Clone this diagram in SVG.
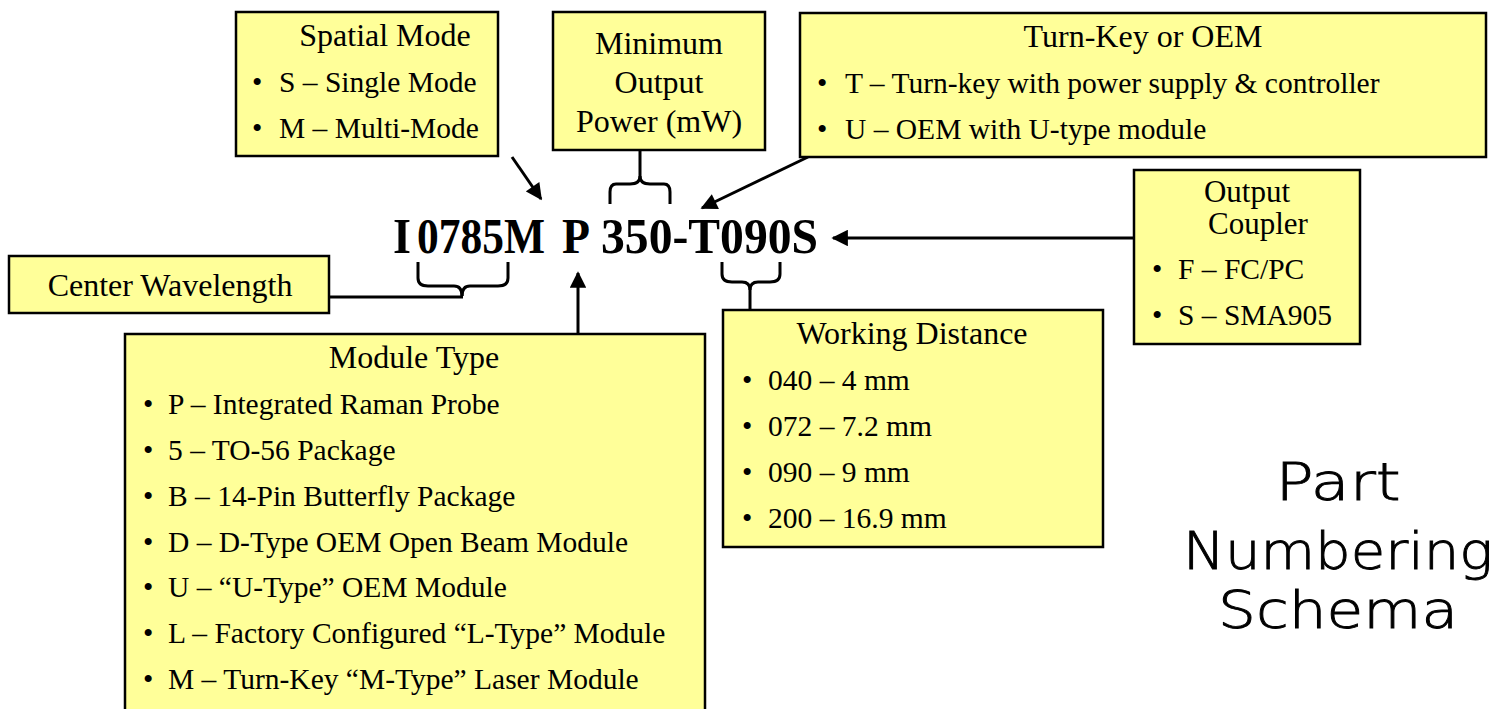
<svg xmlns="http://www.w3.org/2000/svg" width="1502" height="709" viewBox="0 0 1502 709">
<style>
.box{fill:#FFFF99;stroke:#000;stroke-width:2.5}
.t{font-family:"Liberation Serif","Times New Roman",serif;font-size:29.5px;fill:#000}
.h{font-family:"Liberation Serif","Times New Roman",serif;font-size:32px;fill:#000;text-anchor:middle}
.pn{font-family:"Liberation Serif","Times New Roman",serif;font-size:50px;font-weight:bold;fill:#000}
.ln{fill:none;stroke:#000;stroke-width:3}
.title{font-family:"DejaVu Sans","Noto Sans",sans-serif;font-size:52px;font-weight:200;fill:#000;stroke:#000;stroke-width:0.9;text-anchor:middle}
</style>
<defs>
<marker id="ah" viewBox="0 0 10 10" refX="9" refY="5" markerWidth="6" markerHeight="5.5" orient="auto" markerUnits="strokeWidth">
<path d="M0,0 L10,5 L0,10 z" fill="#000"/>
</marker>
</defs>
<rect width="1502" height="709" fill="#fff"/>

<g id="connectors">
<line class="ln" x1="512" y1="157" x2="541" y2="199" marker-end="url(#ah)"/>
<path class="ln" d="M640,151 V176 Q640,184 630,184 H616 Q610,184 610,192 V204"/>
<path class="ln" d="M640,176 Q640,184 650,184 H664 Q670,184 670,192 V204"/>
<line class="ln" x1="808" y1="157" x2="702" y2="208" marker-end="url(#ah)"/>
<line class="ln" x1="1134" y1="238" x2="833" y2="238" marker-end="url(#ah)"/>
<line class="ln" x1="578" y1="334" x2="578" y2="273" marker-end="url(#ah)"/>
<path class="ln" d="M418,262 V278 Q418,286 428,286 H454 Q462,286 462,296"/>
<path class="ln" d="M508,262 V278 Q508,286 498,286 H470 Q462,286 462,296"/>
<path class="ln" d="M329,297 H463"/>
<path class="ln" d="M722,262 V274 Q722,282 732,282 H742 Q750,282 750,290 V310"/>
<path class="ln" d="M780,262 V274 Q780,282 770,282 H758 Q750,282 750,290"/>
</g>

<g id="partnumber">
<text class="pn" x="393" y="253" textLength="18" lengthAdjust="spacingAndGlyphs">I</text>
<text class="pn" x="417" y="253" textLength="128" lengthAdjust="spacingAndGlyphs">0785M</text>
<text class="pn" x="562" y="253" textLength="28" lengthAdjust="spacingAndGlyphs">P</text>
<text class="pn" x="601" y="253" textLength="217" lengthAdjust="spacingAndGlyphs">350-T090S</text>
</g>

<g id="spatial-mode">
<rect class="box" x="236" y="12" width="262" height="144"/>
<text class="h" x="385" y="46">Spatial Mode</text>
<text class="t" x="252" y="92">•</text><text class="t" x="279" y="92">S – Single Mode</text>
<text class="t" x="252" y="138">•</text><text class="t" x="279" y="138">M – Multi-Mode</text>
</g>

<g id="min-output">
<rect class="box" x="553" y="12" width="212" height="138"/>
<text class="h" x="659" y="54">Minimum</text>
<text class="h" x="659" y="93">Output</text>
<text class="h" x="659" y="132">Power (mW)</text>
</g>

<g id="turnkey">
<rect class="box" x="800" y="13" width="686" height="144"/>
<text class="h" x="1143" y="47">Turn-Key or OEM</text>
<text class="t" x="817" y="93">•</text><text class="t" x="845" y="93">T – Turn-key with power supply &amp; controller</text>
<text class="t" x="817" y="139">•</text><text class="t" x="845" y="139">U – OEM with U-type module</text>
</g>

<g id="output-coupler">
<rect class="box" x="1134" y="170" width="226" height="174"/>
<text class="h" x="1247" y="202" style="font-size:31px">Output</text>
<text class="h" x="1258" y="234" style="font-size:31px">Coupler</text>
<text class="t" x="1152" y="279">•</text><text class="t" x="1178" y="279">F – FC/PC</text>
<text class="t" x="1152" y="325">•</text><text class="t" x="1178" y="325">S – SMA905</text>
</g>

<g id="center-wavelength">
<rect class="box" x="9" y="256" width="320" height="57"/>
<text class="h" x="170" y="296">Center Wavelength</text>
</g>

<g id="module-type">
<rect class="box" x="125" y="334" width="580" height="380"/>
<text class="h" x="414" y="368">Module Type</text>
<text class="t" x="143" y="414">•</text><text class="t" x="168" y="414">P – Integrated Raman Probe</text>
<text class="t" x="143" y="460">•</text><text class="t" x="168" y="460">5 – TO-56 Package</text>
<text class="t" x="143" y="506">•</text><text class="t" x="168" y="506">B – 14-Pin Butterfly Package</text>
<text class="t" x="143" y="552">•</text><text class="t" x="168" y="552">D – D-Type OEM Open Beam Module</text>
<text class="t" x="143" y="597">•</text><text class="t" x="168" y="597">U – “U-Type” OEM Module</text>
<text class="t" x="143" y="643">•</text><text class="t" x="168" y="643">L – Factory Configured “L-Type” Module</text>
<text class="t" x="143" y="689">•</text><text class="t" x="168" y="689">M – Turn-Key “M-Type” Laser Module</text>
</g>

<g id="working-distance">
<rect class="box" x="723" y="310" width="380" height="237"/>
<text class="h" x="912" y="344">Working Distance</text>
<text class="t" x="742" y="390">•</text><text class="t" x="768" y="390">040 – 4 mm</text>
<text class="t" x="742" y="436">•</text><text class="t" x="768" y="436">072 – 7.2 mm</text>
<text class="t" x="742" y="482">•</text><text class="t" x="768" y="482">090 – 9 mm</text>
<text class="t" x="742" y="528">•</text><text class="t" x="768" y="528">200 – 16.9 mm</text>
</g>

<g id="title">
<text class="title" x="1338" y="500" textLength="125" lengthAdjust="spacingAndGlyphs">Part</text>
<text class="title" x="1338" y="569" textLength="310" lengthAdjust="spacingAndGlyphs">Numbering</text>
<text class="title" x="1338" y="628" textLength="240" lengthAdjust="spacingAndGlyphs">Schema</text>
</g>
</svg>
